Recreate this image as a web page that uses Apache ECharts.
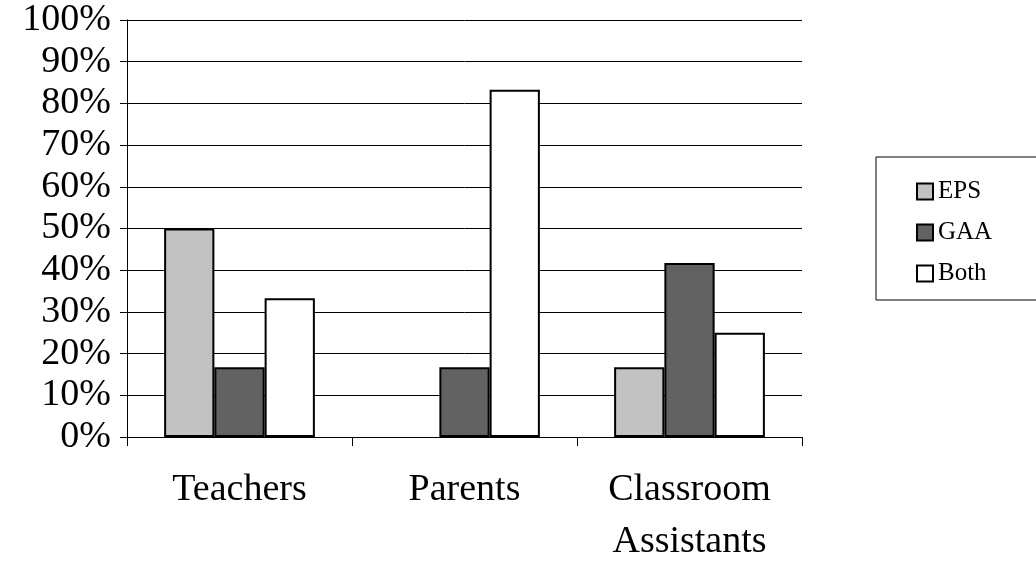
<!DOCTYPE html>
<html><head><meta charset="utf-8">
<script src="https://cdn.jsdelivr.net/npm/echarts@6/dist/echarts.min.js"></script>
<style>html,body{margin:0;padding:0;background:#fff}#c{width:1036px;height:579px}</style>
</head><body><div id="c"></div>
<script>
var categories = ['Teachers', 'Parents', 'Classroom\nAssistants'];
var seriesNames = ['EPS', 'GAA', 'Both'];
var eps = [50, 0, 16.7];
var gaa = [16.7, 16.7, 41.7];
var both = [33.3, 83.3, 25];
var yTicks = [0, 10, 20, 30, 40, 50, 60, 70, 80, 90, 100];

var fills = ['#c2c2c2', '#626262', '#ffffff'];
var serif = '"Liberation Serif","DejaVu Serif",serif';
var chart = echarts.init(document.getElementById('c'));
function mk(name, data, i) {
  return {
    name: name, type: 'bar', barGap: '0%', barCategoryGap: '33%',
    data: data.map(function (v) { return v === 0 ? { value: v, itemStyle: { borderWidth: 0 } } : v; }),
    itemStyle: { color: fills[i], borderColor: '#000', borderWidth: 2 }
  };
}
chart.setOption({
  animation: false,
  backgroundColor: '#fff',
  grid: { left: 127, right: 234, top: 20, bottom: 142, containLabel: false },
  legend: {
    orient: 'vertical', left: 876, top: 157,
    padding: [22, 60, 14, 40], itemGap: 16,
    borderColor: '#000', borderWidth: 1,
    itemWidth: 16, itemHeight: 16, icon: 'rect',
    textStyle: { fontFamily: serif, fontSize: 25, color: '#000' },
    data: seriesNames
  },
  xAxis: {
    type: 'category', data: categories,
    axisLine: { lineStyle: { color: '#000', width: 1 } },
    axisTick: { show: true, length: 9, lineStyle: { color: '#000' } },
    axisLabel: { margin: 27, fontFamily: serif, fontSize: 38, color: '#000', lineHeight: 52 }
  },
  yAxis: {
    type: 'value', min: 0, max: 100, interval: 10,
    axisLine: { show: true, lineStyle: { color: '#000', width: 1 } },
    axisTick: { show: true, length: 7, lineStyle: { color: '#000' } },
    splitLine: { show: true, lineStyle: { color: '#000', width: 1 } },
    axisLabel: { margin: 16, fontFamily: serif, fontSize: 38, color: '#000',
      formatter: function (v) { return yTicks.indexOf(v) >= 0 ? v + '%' : ''; } }
  },
  series: [mk(seriesNames[0], eps, 0), mk(seriesNames[1], gaa, 1), mk(seriesNames[2], both, 2)]
});
</script></body></html>
